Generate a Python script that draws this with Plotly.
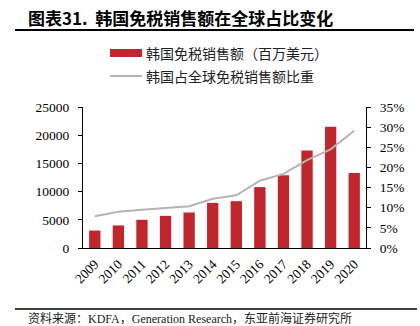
import plotly.graph_objects as go

years = ["2009","2010","2011","2012","2013","2014","2015","2016","2017","2018","2019","2020"]
sales = [3100, 4000, 5000, 5700, 6300, 8000, 8300, 10800, 12900, 17300, 21500, 13300]
share = [7.9, 9.0, 9.5, 10.0, 10.35, 12.2, 13.1, 16.7, 18.4, 21.8, 24.5, 29.1]
y_ticks = [0, 5000, 10000, 15000, 20000, 25000]
y2_ticks = [0, 5, 10, 15, 20, 25, 30, 35]

W, H = 420, 326
L, R, T, B = 83, 366, 107, 248

def px(x):
    return (x - L) / (R - L)

def py(y):
    return (B - y) / (B - T)

serif = "Liberation Serif, Times New Roman, serif"
cjk = "Noto Sans CJK SC"

fig = go.Figure()
fig.add_trace(go.Bar(x=years, y=sales, marker=dict(color="#C0262D", line=dict(width=0)),
                     width=0.48, name="韩国免税销售额（百万美元）", showlegend=False))
fig.add_trace(go.Scatter(x=years, y=share, yaxis="y2", mode="lines",
                         line=dict(color="#B4B4B4", width=2), name="韩国占全球免税销售额比重",
                         showlegend=False))

fig.update_layout(
    width=W, height=H,
    margin=dict(l=L, r=W - R, t=T, b=H - B),
    paper_bgcolor="white", plot_bgcolor="white",
    xaxis=dict(type="category", range=[-0.5, 11.5], showline=True, linecolor="black", linewidth=1,
               ticks="", tickangle=-45, tickfont=dict(family=serif, size=13.5, color="black"),
               showgrid=False, zeroline=False, ticklabelstandoff=2),
    yaxis=dict(range=[0, 25000], tickvals=y_ticks, ticktext=[str(v) for v in y_ticks],
               showline=True, linecolor="black", linewidth=1,
               ticks="outside", ticklen=4, tickcolor="black", showgrid=False, zeroline=False,
               tickfont=dict(family=serif, size=13.5, color="black"), ticklabelstandoff=6),
    yaxis2=dict(range=[0, 35], tickvals=y2_ticks, ticktext=[f"{v}%" for v in y2_ticks],
                overlaying="y", side="right", showline=True, linecolor="black", linewidth=1,
                ticks="outside", ticklen=4, tickcolor="black", showgrid=False, zeroline=False,
                tickfont=dict(family=serif, size=13.5, color="black"), ticklabelstandoff=6),
)

shapes = [
    dict(type="line", xref="paper", yref="paper", x0=px(15), x1=px(414), y0=py(30), y1=py(30),
         line=dict(color="black", width=2)),
    dict(type="line", xref="paper", yref="paper", x0=px(15), x1=px(417), y0=py(309), y1=py(309),
         line=dict(color="black", width=1.5)),
    dict(type="rect", xref="paper", yref="paper", x0=px(110), x1=px(142), y0=py(57), y1=py(49),
         fillcolor="#C0262D", line=dict(width=0)),
    dict(type="line", xref="paper", yref="paper", x0=px(110), x1=px(142), y0=py(76), y1=py(76),
         line=dict(color="#B4B4B4", width=2)),
]
annotations = [
    dict(text="<b>图表31.  韩国免税销售额在全球占比变化</b>", xref="paper", yref="paper",
         x=px(26), y=py(17), xanchor="left", yanchor="middle", showarrow=False,
         font=dict(family=cjk, size=17, color="black")),
    dict(text="韩国免税销售额（百万美元）", xref="paper", yref="paper",
         x=px(144), y=py(53), xanchor="left", yanchor="middle", showarrow=False,
         font=dict(family=cjk, size=14, color="#222222")),
    dict(text="韩国占全球免税销售额比重", xref="paper", yref="paper",
         x=px(144), y=py(76), xanchor="left", yanchor="middle", showarrow=False,
         font=dict(family=cjk, size=14, color="#222222")),
    dict(text="资料来源：KDFA，Generation Research，东亚前海证券研究所", xref="paper", yref="paper",
         x=px(26), y=py(318), xanchor="left", yanchor="middle", showarrow=False,
         font=dict(family="Liberation Serif, " + cjk, size=12, color="#222222")),
]
fig.update_layout(shapes=shapes, annotations=annotations)
fig.write_html("out.html")
